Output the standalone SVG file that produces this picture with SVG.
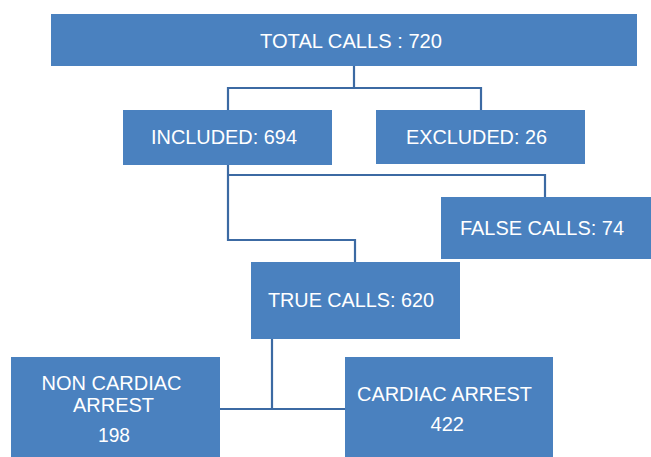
<svg xmlns="http://www.w3.org/2000/svg" width="651" height="457" viewBox="0 0 651 457">
<style>
.box{fill:#4a81bf;}
.t{font-family:"Liberation Sans",Arial,sans-serif;font-size:20px;fill:#ffffff;}
.c{fill:none;stroke:#3c6aa3;stroke-width:2.2;}
</style>
<rect width="651" height="457" fill="#ffffff"/>
<g id="connectors">
<path class="c" d="M354,66 V88 M228,110 V88 H481 V110"/>
<path class="c" d="M228,165 V240 H355 V262 M228,175 H545 V197"/>
<path class="c" d="M272,339 V409 M220,409 H345"/>
</g>
<g id="total">
<rect class="box" x="51" y="14" width="586" height="52"/>
<text class="t" x="260" y="47.5" textLength="182" lengthAdjust="spacingAndGlyphs">TOTAL CALLS : 720</text>
</g>
<g id="included">
<rect class="box" x="123" y="110" width="209" height="55"/>
<text class="t" x="151" y="144" textLength="146" lengthAdjust="spacingAndGlyphs">INCLUDED: 694</text>
</g>
<g id="excluded">
<rect class="box" x="376" y="110" width="209" height="54"/>
<text class="t" x="406" y="143.5" textLength="141" lengthAdjust="spacingAndGlyphs">EXCLUDED: 26</text>
</g>
<g id="false">
<rect class="box" x="441" y="197" width="210" height="62"/>
<text class="t" x="460" y="235" textLength="164" lengthAdjust="spacingAndGlyphs">FALSE CALLS: 74</text>
</g>
<g id="true">
<rect class="box" x="251" y="262" width="209" height="77"/>
<text class="t" x="268" y="306.5" textLength="166" lengthAdjust="spacingAndGlyphs">TRUE CALLS: 620</text>
</g>
<g id="noncardiac">
<rect class="box" x="11" y="357" width="209" height="100"/>
<text class="t" x="41.5" y="390" textLength="140" lengthAdjust="spacingAndGlyphs">NON CARDIAC</text>
<text class="t" x="73" y="412" textLength="81" lengthAdjust="spacingAndGlyphs">ARREST</text>
<text class="t" x="98" y="441.5" textLength="32" lengthAdjust="spacingAndGlyphs">198</text>
</g>
<g id="cardiac">
<rect class="box" x="345" y="357" width="208" height="100"/>
<text class="t" x="357" y="400.5" textLength="175" lengthAdjust="spacingAndGlyphs">CARDIAC ARREST</text>
<text class="t" x="430.5" y="431" textLength="33.5" lengthAdjust="spacingAndGlyphs">422</text>
</g>
</svg>
